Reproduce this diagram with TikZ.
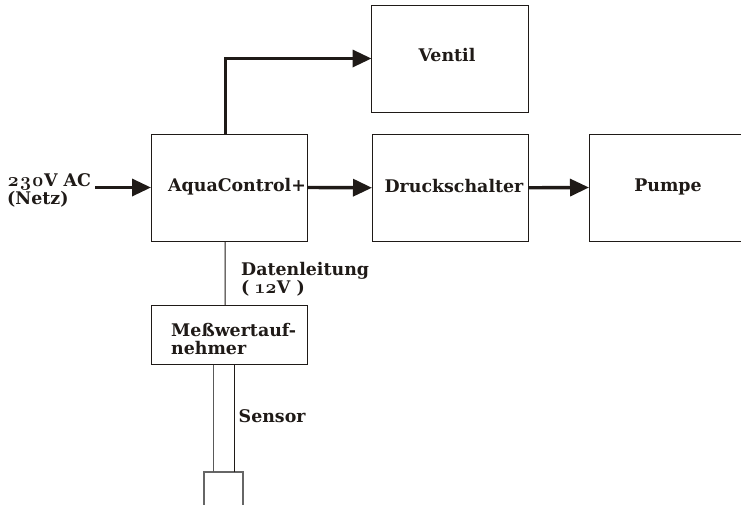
\documentclass[tikz,border=0pt]{standalone}
\usepackage{fontspec}
\setmainfont{DejaVu Serif}
\newfontfamily\osf[Numbers=OldStyle]{Latin Modern Roman}
\newcommand{\osnum}[1]{{\osf\bfseries\fontsize{19.5}{18}\selectfont #1}}
\usetikzlibrary{arrows.meta,calc}
\definecolor{ink}{HTML}{1F1A17}
\tikzset{
  blockbox/.style={draw=ink,line width=1pt,fill=none,outer sep=0pt,inner sep=0pt,minimum width=#1},
  blockbox/.default=156.5pt,
  lbl/.style={text=ink,font=\bfseries\fontsize{17.4}{18}\selectfont,inner sep=0pt,align=left},
  power/.style={draw=ink,line width=3.4pt,-{Triangle[length=19pt,width=17pt]}},
  wire/.style={draw=ink,line width=1pt},
  greywire/.style={draw=black!65,line width=1.4pt}
}
\begin{document}
\begin{tikzpicture}[x=1pt,y=-1pt]
\useasboundingbox (0,0) rectangle (741,504);
% boxes
\node[blockbox,minimum height=107pt] (aqua) at (229.25,187.5) {};
\node[blockbox,minimum height=107pt] (ventil) at (449.75,58.5) {};
\node[blockbox,minimum height=107pt] (druck) at (450.25,187.75) {};
\node[blockbox=156pt,minimum height=107pt] (pumpe) at (667,187.5) {};
\node[blockbox,minimum height=59pt] (mess) at (229.5,335) {};
\node[blockbox=39pt,minimum height=44pt,draw=black!60,line width=1.2pt] (sensorbox) at (223.5,494) {};
% labels
\node[lbl,anchor=west] (tnetz) at (7,190) {\osnum{230}V AC\\(Netz)};
\node[lbl,anchor=west] (taqua) at (168,187) {AquaControl+};
\node[lbl] (tventil) at (447,55) {Ventil};
\node[lbl] (tdruck) at (454,186) {Druckschalter};
\node[lbl] (tpumpe) at (668,187) {Pumpe};
\node[lbl,anchor=west] (tdaten) at (241,279) {Datenleitung\\( \osnum{12}V )};
\node[lbl,anchor=west] (tmess) at (171,339) {Meßwertauf-\\nehmer};
\node[lbl,anchor=west] (tsensor) at (238.5,416) {Sensor};
% connectors
\coordinate (netz) at (95,187.5);
\draw[power] (netz) -- (aqua.west);
\draw[power] ([xshift=-4pt]aqua.north) |- (ventil.west);
\draw[power] (aqua.east) -- (druck.west);
\draw[power] (druck.east) -- (pumpe.west);
\draw[wire] ([xshift=-4pt]aqua.south) -- ([xshift=-4.5pt]mess.north);
\draw[greywire] ([xshift=-16pt]mess.south) -- ([xshift=-10pt]sensorbox.north);
\draw[wire] ([xshift=5pt]mess.south) -- ([xshift=11pt]sensorbox.north);
\end{tikzpicture}
\end{document}
